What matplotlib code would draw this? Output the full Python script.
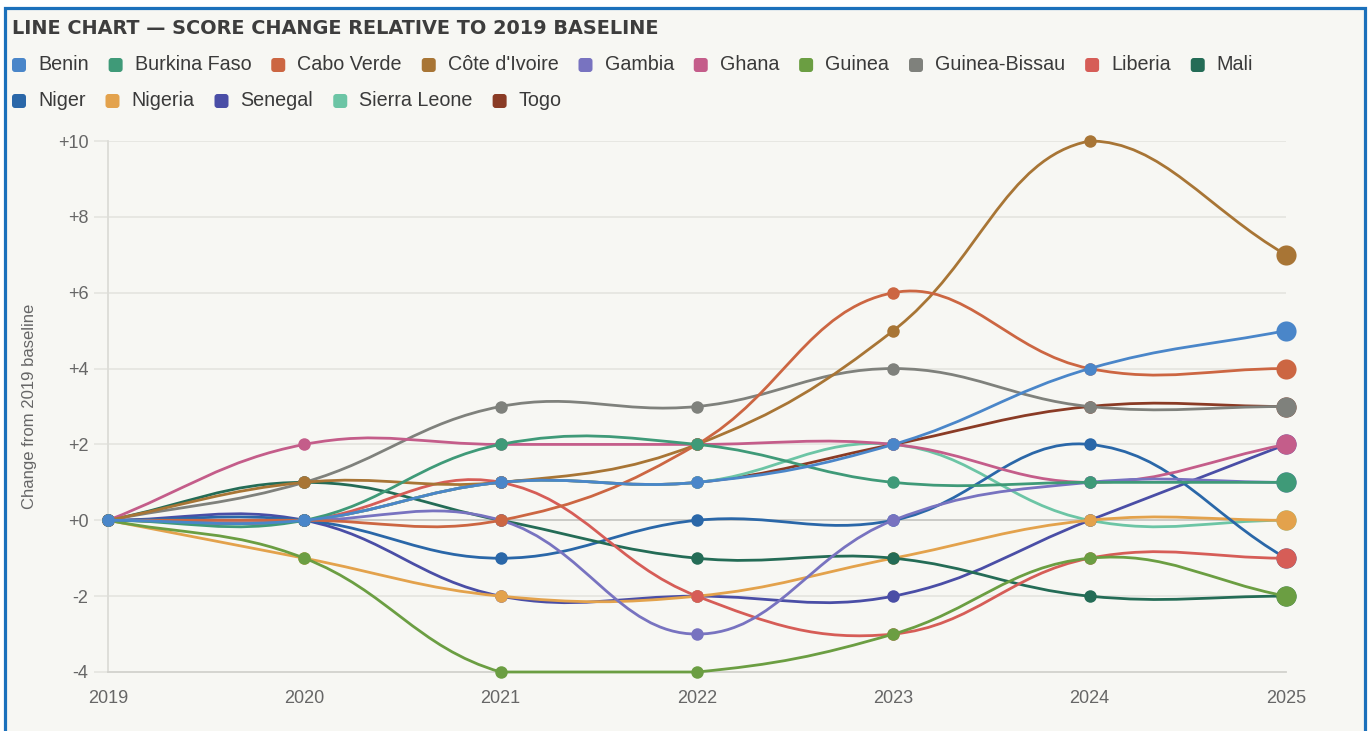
import numpy as np
import matplotlib
matplotlib.use("Agg")
import matplotlib.pyplot as plt
from matplotlib.path import Path
from matplotlib.patches import PathPatch, Rectangle, FancyBboxPatch
from matplotlib.transforms import IdentityTransform

# data: change vs 2019 baseline
years = [2019, 2020, 2021, 2022, 2023, 2024, 2025]
countries = ["Benin", "Burkina Faso", "Cabo Verde", "Côte d'Ivoire", "Gambia",
             "Ghana", "Guinea", "Guinea-Bissau", "Liberia", "Mali",
             "Niger", "Nigeria", "Senegal", "Sierra Leone", "Togo"]
benin = [0, 0, 1, 1, 2, 4, 5]
burkina_faso = [0, 0, 2, 2, 1, 1, 1]
cabo_verde = [0, 0, 0, 2, 6, 4, 4]
cote_divoire = [0, 1, 1, 2, 5, 10, 7]
gambia = [0, 0, 0, -3, 0, 1, 1]
ghana = [0, 2, 2, 2, 2, 1, 2]
guinea = [0, -1, -4, -4, -3, -1, -2]
guinea_bissau = [0, 1, 3, 3, 4, 3, 3]
liberia = [0, 0, 1, -2, -3, -1, -1]
mali = [0, 1, 0, -1, -1, -2, -2]
niger = [0, 0, -1, 0, 0, 2, -1]
nigeria = [0, -1, -2, -2, -1, 0, 0]
senegal = [0, 0, -2, -2, -2, 0, 2]
sierra_leone = [0, 0, 1, 1, 2, 0, 0]
togo = [0, 0, 1, 1, 2, 3, 3]
series = [benin, burkina_faso, cabo_verde, cote_divoire, gambia, ghana, guinea,
          guinea_bissau, liberia, mali, niger, nigeria, senegal, sierra_leone, togo]
colors = ["#4a86c9", "#3f9a78", "#cc6642", "#a87535", "#7873c0", "#c45d8a",
          "#6b9e42", "#7f817c", "#d65d57", "#246c56", "#2a67a8", "#e3a24c",
          "#4a4ea6", "#6cc5a5", "#8a3b25"]
y_ticks = [-4, -2, 0, 2, 4, 6, 8, 10]

W, H = 1368, 731
BG = "#f7f7f3"
fig = plt.figure(figsize=(W / 100, H / 100), dpi=100)
fig.patch.set_facecolor("white")

# panel with blue frame (bottom edge runs off the picture)
fig.patches.append(Rectangle((5 / W, -0.05), 1360 / W, 1 - 8 / H + 0.05,
                             transform=fig.transFigure, facecolor=BG,
                             edgecolor="#1b70bb", linewidth=2.3, zorder=-10))

ax = fig.add_axes([108 / W, 1 - 672 / H, (1286 - 108) / W, (672 - 141) / H])
ax.set_facecolor("none")
ax.set_xlim(years[0], years[-1])
ax.set_ylim(-4, 10)

grid_c = "#e6e6e1"
for v in y_ticks:
    if v == 0:
        ax.axhline(v, color="#cacac6", lw=1.4, zorder=1)
    elif v != -4:
        ax.axhline(v, color=grid_c, lw=1.3, zorder=1)
for s in ["top", "right"]:
    ax.spines[s].set_visible(False)
ax.spines["left"].set_color("#dcdcd7")
ax.spines["bottom"].set_color("#d2d2cd")
ax.spines["left"].set_linewidth(1.3)
ax.spines["bottom"].set_linewidth(1.3)

ax.set_xticks(years)
ax.set_xticklabels([str(y) for y in years])
ax.set_yticks(y_ticks)
ax.set_yticklabels([f"{v:+d}" for v in y_ticks])
ax.tick_params(axis="x", length=0, pad=13, labelsize=13, labelcolor="#666666")
ax.tick_params(axis="y", length=10, width=1.3, color=grid_c, pad=4,
               labelsize=13, labelcolor="#666666")
for lab in ax.get_xticklabels() + ax.get_yticklabels():
    lab.set_fontfamily("Liberation Sans")


def spline_path(xs, ys, t=0.4):
    # Chart.js style bezier with tension, computed in pixel space,
    # control points kept inside the plot area
    pts = ax.transData.transform(np.column_stack([xs, ys]).astype(float))
    bb = ax.bbox
    lo = np.array([bb.x0, bb.y0])
    hi = np.array([bb.x1, bb.y1])
    n = len(pts)
    cp_prev, cp_next = [], []
    for i in range(n):
        cur = pts[i]
        prv = pts[i - 1] if i > 0 else cur
        nxt = pts[i + 1] if i < n - 1 else cur
        d01 = np.hypot(*(cur - prv))
        d12 = np.hypot(*(nxt - cur))
        tot = d01 + d12
        s01 = d01 / tot if tot else 0
        s12 = d12 / tot if tot else 0
        cp_prev.append(np.clip(cur - t * s01 * (nxt - prv), lo, hi))
        cp_next.append(np.clip(cur + t * s12 * (nxt - prv), lo, hi))
    verts = [pts[0]]
    codes = [Path.MOVETO]
    for i in range(n - 1):
        verts += [cp_next[i], cp_prev[i + 1], pts[i + 1]]
        codes += [Path.CURVE4] * 3
    verts = ax.transData.inverted().transform(np.array(verts))
    return Path(verts, codes)


nser = len(series)
for i, (vals, c) in enumerate(zip(series, colors)):
    z = 10 + (nser - i) * 2
    ax.add_patch(PathPatch(spline_path(years, vals), facecolor="none",
                           edgecolor=c, lw=2.0, zorder=z, clip_on=False))
    ax.plot(years[:-1], vals[:-1], "o", ms=9, color=c, mec="none",
            zorder=z + 1, clip_on=False)
    ax.plot(years[-1:], vals[-1:], "o", ms=14.5, color=c, mec="none",
            zorder=z + 1, clip_on=False)

fig.text(30 / W, 1 - 406 / H, "Change from 2019 baseline", rotation=90,
         ha="center", va="center", fontsize=12, color="#666666",
         family="Liberation Sans")

fig.text(12 / W, 1 - 29 / H, "LINE CHART — SCORE CHANGE RELATIVE TO 2019 BASELINE",
         ha="left", va="center", fontsize=13.9, fontweight="bold",
         color="#3d3d3d", family="DejaVu Sans")

# legend, flowed like the html legend
renderer = fig.canvas.get_renderer()
x, row_y = 12, [65, 101]
row = 0
for name, c in zip(countries, colors):
    txt = fig.text(0, 0, name, fontsize=14.2, color="#3a3a3a",
                   family="Liberation Sans", va="center", ha="left",
                   transform=IdentityTransform())
    tw = txt.get_window_extent(renderer).width
    if x + 26 + tw > 1345:
        row += 1
        x = 12
    yc = H - row_y[row]
    fig.patches.append(FancyBboxPatch((x, yc - 7), 14, 14,
                                      boxstyle="round,pad=0,rounding_size=3",
                                      facecolor=c, edgecolor="none",
                                      transform=IdentityTransform()))
    txt.set_position((x + 26, yc))
    x += 26 + tw + 20

fig.savefig("out.png", dpi=100, facecolor=fig.get_facecolor())
